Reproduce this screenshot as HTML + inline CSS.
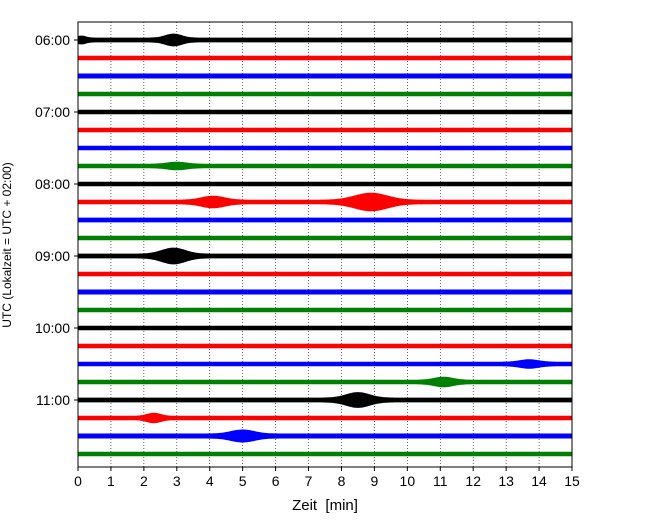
<!DOCTYPE html>
<html><head><meta charset="utf-8"><style>
body{margin:0;background:#fff}
svg{display:block;font-family:"Liberation Sans",sans-serif}
</style></head><body>
<svg id="c" width="650" height="520"></svg>
<script>
const hourLabels=["06:00","07:00","08:00","09:00","10:00","11:00"];
const xTicks=[0,1,2,3,4,5,6,7,8,9,10,11,12,13,14,15];
const colors=["#000000","#ff0000","#0000ff","#008000"];
const baseAmp=[2.4,2.2,2.5,2.3,2.2,2.2,2.2,2.3,2.2,2.3,2.4,2.3,2.4,2.2,2.5,2.2,2.2,2.2,2.3,2.3,2.4,2.2,2.5,2.2];
// events: [row, center minute, amplitude px, width minutes]
const evRow=[0,0,7,9,9,12,18,19,20,21,22];
const evT=[0.1,2.9,3.0,4.1,8.9,2.9,13.7,11.1,8.5,2.3,5.0];
const evA=[2,4,2,4,7,6,2.5,3,5.5,3,4];
const evW=[0.2,0.35,0.4,0.5,0.7,0.5,0.4,0.4,0.5,0.3,0.5];
const svg=document.getElementById('c');const NS="http://www.w3.org/2000/svg";
const x0=78,x1=572,yTop=22,yBot=467;
const xs=m=>x0+(x1-x0)*m/15;
const ys=r=>40+r*18;
function el(t,a,p){const e=document.createElementNS(NS,t);for(const k in a)e.setAttribute(k,a[k]);(p||svg).appendChild(e);return e;}
for(const m of xTicks){if(m>0&&m<15){const g=el('line',{x1:xs(m),x2:xs(m),y1:yTop,y2:yBot,stroke:'#000','stroke-width':0.6,'stroke-dasharray':'1,2'});

}}
for(let r=0;r<24;r++){
 let top=[],bot=[];
 for(let t=0;t<=15.0001;t+=0.04){
  let a=baseAmp[r];
  for(let i=0;i<evRow.length;i++)if(evRow[i]===r){const d=(t-evT[i])/evW[i];a+=evA[i]*Math.exp(-d*d);}
  top.push(xs(t).toFixed(1)+','+(ys(r)-a).toFixed(1));
  bot.unshift(xs(t).toFixed(1)+','+(ys(r)+a).toFixed(1));
 }
 const p=el('polygon',{points:top.concat(bot).join(' '),fill:colors[r%4]});
 
 
}
const f=el('rect',{x:x0,y:yTop,width:x1-x0,height:yBot-yTop,fill:'none',stroke:'#000','stroke-width':1});


for(const m of xTicks){el('line',{x1:xs(m),x2:xs(m),y1:yBot,y2:yBot+4,stroke:'#000'});
 const t=el('text',{x:xs(m),y:yBot+19,'text-anchor':'middle','font-size':14});t.textContent=m;
 
 }
hourLabels.forEach((h,i)=>{const y=ys(i*4);el('line',{x1:x0-4,x2:x0,y1:y,y2:y,stroke:'#000'});
 const t=el('text',{x:x0-8,y:y+5,'text-anchor':'end','font-size':14});t.textContent=h;
 
 });
const xt=el('text',{x:325,y:510,'text-anchor':'middle','font-size':15});xt.textContent="Zeit\u00a0\u00a0[min]";


const yt=el('text',{x:0,y:0,'text-anchor':'middle','font-size':12,transform:'translate(11,245) rotate(-90)'});yt.textContent="UTC (Lokalzeit = UTC + 02:00)";


</script></body></html>
